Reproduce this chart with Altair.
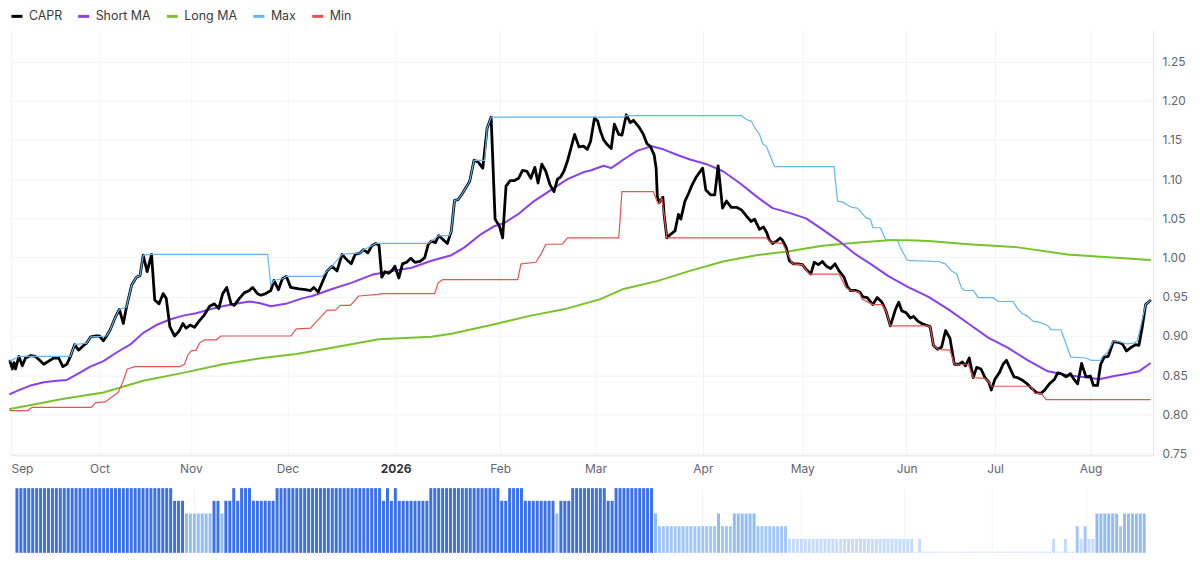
import altair as alt
import pandas as pd

# ---------------- data ----------------
# x is the bar number (one bar per session), y is the CAPR value
CAPR_U = [0, 0.6, 1.0, 1.4, 2.25, 3.1, 3.9, 5.2, 6.4, 7.25, 8.5, 9.75, 11, 12.25, 13.3, 14.3, 15.2, 16.25,
          17.25, 18.5, 19.3, 20.3, 21.4, 22.5, 23.5, 24.3, 25.2, 26.4, 27.5, 28.5, 29.3, 30.6, 31.8, 32.7,
          33.5, 34.5, 35.6, 36.4, 37.5, 38.5, 39.3, 40.2, 41.4, 42.5, 43.5, 44.3, 45.3, 46.4, 47.7, 48.9,
          50.2, 51.4, 52.5, 53.5, 54.5, 55.6, 56.4, 57.7, 58.9, 60.2, 61, 62.25, 63.1, 64.3, 65.6, 66.4,
          67.5, 68.5, 69.5, 70.6, 72.7, 74.3, 75.6, 76.4, 77.5, 78.5, 79.75, 81, 82.25, 83.5, 84.75, 85.8,
          86.8, 88.1, 88.9, 90, 91, 92, 92.8, 93.5, 94.3, 95.2, 96, 96.8, 97.8, 98.7, 99.75, 100.8, 101.8,
          103.1, 104.3, 105.2, 106, 107, 107.8, 108.9, 110, 111, 111.8, 112.7, 113.7, 114.75, 115.6, 116.7,
          117.7, 118.9, 120, 121, 122, 123.1, 123.9, 124.75, 125.8, 126.8, 127.9, 128.9, 130, 131, 132,
          132.8, 133.75, 134.75, 135.8, 136.8, 137.7, 138.5, 139.3, 140.2, 142, 143.1, 144.2, 145.2, 146,
          147, 147.8, 148.5, 149.3, 150.2, 151.2, 152, 153.1, 153.9, 155, 156, 156.8, 158.1, 159.3, 160.2,
          161, 162, 162.5, 162.8, 163.25, 164.2, 164.5, 165.2, 166.2, 167.25, 168.1, 168.7, 169.75, 170.6,
          171.4, 172.5, 174.2, 175, 176.2, 177.25, 178.1, 179.2, 180.2, 181.4, 182.7, 183.9, 185.2, 186.4,
          187.25, 188.5, 189.5, 190.3, 191, 191.8, 192.8, 193.7, 194.3, 195.2, 196, 197, 198.1, 199.3,
          200.2, 201.4, 202.25, 203.3, 204.3, 205.3, 206.4, 207.5, 208.5, 209.75, 210.6, 211.4, 212.7,
          213.7, 214.5, 215.6, 217, 218.1, 219.3, 220.3, 221.4, 222.7, 223.5, 224.3, 225.3, 226.4, 227.25,
          228.3, 229.3, 230.3, 231.4, 232.25, 233.3, 234.3, 235.3, 236.4, 237.5, 238.7, 239.5, 240.3,
          241.25, 242.25, 243.1, 244.2, 245.2, 246.2, 246.8, 247.7, 248.9, 249.75, 250.6, 251.4, 252.5,
          253.3, 254.5, 255.6, 256.8, 258.1, 259.3, 260.2, 261.4, 262.7, 263.5, 264.3, 265.6, 266.7, 267.7,
          268.5, 269.5, 270.6, 271.7, 272.5, 273.5, 274.3, 275.2, 276.2, 277.5, 278.7, 279.75, 280.8,
          281.8, 283.1, 283.9, 284.75, 285.6, 286.7]
CAPR_V = [0.868, 0.858, 0.866, 0.858, 0.874, 0.862, 0.872, 0.875, 0.874, 0.870, 0.864, 0.868, 0.872, 0.872,
          0.861, 0.864, 0.874, 0.889, 0.882, 0.888, 0.891, 0.899, 0.900, 0.900, 0.894, 0.900, 0.908, 0.923,
          0.934, 0.916, 0.937, 0.965, 0.975, 0.977, 1.003, 0.982, 1.004, 0.946, 0.941, 0.954, 0.948, 0.912,
          0.900, 0.906, 0.916, 0.910, 0.914, 0.911, 0.920, 0.927, 0.938, 0.941, 0.935, 0.954, 0.962, 0.941,
          0.939, 0.948, 0.955, 0.958, 0.962, 0.954, 0.952, 0.954, 0.958, 0.971, 0.959, 0.973, 0.976, 0.962,
          0.960, 0.959, 0.958, 0.962, 0.956, 0.968, 0.983, 0.989, 0.983, 1.004, 0.997, 0.992, 1.004, 1.006,
          1.010, 1.006, 1.015, 1.018, 1.016, 0.975, 0.982, 0.980, 0.983, 0.989, 0.974, 0.992, 0.994, 0.999,
          0.994, 0.995, 1.000, 1.017, 1.021, 1.019, 1.028, 1.023, 1.018, 1.034, 1.073, 1.074, 1.081, 1.090,
          1.097, 1.124, 1.122, 1.114, 1.165, 1.179, 1.049, 1.040, 1.025, 1.091, 1.098, 1.098, 1.101, 1.111,
          1.110, 1.101, 1.115, 1.095, 1.119, 1.110, 1.093, 1.084, 1.100, 1.103, 1.110, 1.123, 1.157, 1.141,
          1.142, 1.138, 1.148, 1.178, 1.174, 1.161, 1.150, 1.144, 1.139, 1.170, 1.157, 1.156, 1.182, 1.172,
          1.175, 1.167, 1.157, 1.145, 1.142, 1.131, 1.114, 1.078, 1.070, 1.077, 1.055, 1.025, 1.030, 1.034,
          1.055, 1.049, 1.072, 1.081, 1.091, 1.102, 1.114, 1.086, 1.080, 1.080, 1.117, 1.063, 1.072, 1.064,
          1.064, 1.061, 1.053, 1.046, 1.049, 1.036, 1.039, 1.032, 1.022, 1.018, 1.021, 1.025, 1.022, 1.013,
          0.996, 0.992, 0.992, 0.991, 0.985, 0.979, 0.994, 0.991, 0.995, 0.989, 0.986, 0.992, 0.983, 0.975,
          0.963, 0.958, 0.958, 0.956, 0.950, 0.949, 0.940, 0.949, 0.943, 0.932, 0.913, 0.934, 0.943, 0.932,
          0.930, 0.923, 0.925, 0.919, 0.916, 0.914, 0.912, 0.888, 0.883, 0.886, 0.907, 0.897, 0.864, 0.864,
          0.867, 0.862, 0.872, 0.847, 0.860, 0.858, 0.847, 0.841, 0.831, 0.845, 0.854, 0.864, 0.869, 0.860,
          0.848, 0.847, 0.844, 0.840, 0.834, 0.828, 0.827, 0.831, 0.839, 0.845, 0.853, 0.852, 0.848, 0.852,
          0.844, 0.839, 0.865, 0.848, 0.849, 0.837, 0.837, 0.864, 0.873, 0.874, 0.893, 0.892, 0.890, 0.881,
          0.885, 0.889, 0.888, 0.911, 0.940, 0.945]

SHORT_U = [0, 1.8, 5.2, 8.5, 11.8, 14.3, 16.8, 20.2, 23.5, 26.8, 30.2, 33.5, 36.8, 40.2, 43.5, 46.8, 50.2,
           53.5, 56.8, 60.2, 62.7, 65.6, 69.3, 73.5, 76, 81, 86, 91, 96, 101, 106, 111, 114.3, 118.5, 121.8,
           124.3, 127.7, 131.8, 136, 140.2, 144.3, 146, 149.3, 151.2, 154.3, 157.7, 161.4, 164.3, 167.7,
           171, 175.2, 179.3, 183.5, 187.7, 191.8, 196, 200.2, 204.3, 208.5, 212.7, 216.4, 221, 226, 231,
           236, 241, 246, 251, 256, 261, 266, 271, 273.9, 277.7, 281, 283.9, 286.7]
SHORT_V = [0.826, 0.830, 0.837, 0.841, 0.843, 0.844, 0.851, 0.861, 0.868, 0.879, 0.889, 0.904, 0.914, 0.921,
           0.926, 0.929, 0.934, 0.938, 0.941, 0.944, 0.942, 0.938, 0.941, 0.948, 0.951, 0.960, 0.968, 0.978,
           0.983, 0.987, 0.996, 1.003, 1.013, 1.030, 1.040, 1.044, 1.055, 1.072, 1.086, 1.100, 1.109, 1.111,
           1.117, 1.114, 1.125, 1.136, 1.142, 1.138, 1.131, 1.125, 1.119, 1.110, 1.095, 1.078, 1.063, 1.057,
           1.050, 1.036, 1.021, 1.004, 0.992, 0.976, 0.962, 0.950, 0.934, 0.916, 0.898, 0.885, 0.869, 0.855,
           0.850, 0.847, 0.845, 0.849, 0.852, 0.855, 0.865]

LONG_U = [0, 13.5, 23.5, 33.5, 43.5, 53.5, 63.5, 72, 81, 92.7, 106, 111, 121, 131, 139.3, 148.5, 154.3,
          162.7, 171, 179.3, 187.7, 196, 204.3, 212.7, 221, 226, 231, 241, 253.5, 266, 274.3, 286.7]
LONG_V = [0.807, 0.820, 0.828, 0.843, 0.853, 0.864, 0.872, 0.877, 0.885, 0.896, 0.899, 0.903, 0.914, 0.926,
          0.934, 0.947, 0.960, 0.970, 0.983, 0.995, 1.003, 1.008, 1.015, 1.019, 1.022, 1.022, 1.021, 1.017,
          1.013, 1.004, 1.001, 0.997]

MAX_U = [0, 2.25, 15.2, 16.25, 19.3, 20.3, 24.3, 25.2, 26.4, 27.5, 29.3, 30.6, 31.8, 32.7, 33.5, 35.6, 64.8,
         65.6, 66.4, 68.5, 69.5, 78.5, 79.75, 81, 83.5, 88.1, 88.9, 91, 92, 105.2, 106, 107.8, 110.5, 111,
         111.8, 112.7, 113.7, 114.75, 115.6, 116.7, 119.4, 120, 121, 154.5, 155, 183.9, 185.2, 186.4,
         187.25, 188.5, 189.3, 190.2, 191.4, 192.25, 207.25, 208.1, 209.3, 210.6, 211.8, 213.1, 213.9,
         215.2, 216.4, 217, 218.9, 220.2, 223.1, 223.9, 225.6, 226.4, 233.5, 235.2, 236.8, 238.1, 239.3,
         240.2, 242.25, 243.5, 247.25, 248.5, 252.25, 253.5, 254.75, 256, 257.25, 259.3, 261, 261.8, 264.3,
         266.8, 270.6, 271.8, 274.3, 274.75, 276, 277.5, 278.5, 281, 282.7, 283.5, 284.3, 285.6, 286.7]
MAX_V = [0.868, 0.874, 0.874, 0.889, 0.891, 0.899, 0.900, 0.908, 0.923, 0.934, 0.937, 0.965, 0.975, 0.977,
         1.003, 1.004, 1.004, 0.965, 0.971, 0.973, 0.976, 0.976, 0.983, 0.989, 1.004, 1.006, 1.010, 1.015,
         1.018, 1.018, 1.021, 1.028, 1.028, 1.034, 1.073, 1.074, 1.081, 1.090, 1.097, 1.124, 1.124, 1.165,
         1.179, 1.179, 1.181, 1.181, 1.176, 1.174, 1.166, 1.157, 1.145, 1.142, 1.127, 1.116, 1.116, 1.072,
         1.071, 1.067, 1.064, 1.063, 1.059, 1.051, 1.049, 1.038, 1.038, 1.023, 1.023, 1.013, 0.997, 0.996,
         0.995, 0.992, 0.983, 0.979, 0.961, 0.958, 0.958, 0.949, 0.949, 0.944, 0.944, 0.934, 0.928, 0.925,
         0.919, 0.917, 0.913, 0.908, 0.908, 0.873, 0.872, 0.869, 0.869, 0.874, 0.879, 0.894, 0.893, 0.890,
         0.891, 0.894, 0.911, 0.940, 0.945]

MIN_U = [0, 4.5, 5.5, 20.5, 21.5, 23.9, 25, 27.2, 28.5, 29.5, 31.4, 42.7, 43.9, 44.75, 45.6, 46.8, 47.7,
         48.9, 51.8, 53.1, 70.6, 72, 75.6, 76.8, 78.5, 79.75, 81.8, 83.1, 85.6, 87.7, 92.7, 93.5, 106.8,
         107.7, 108.9, 127.7, 128.5, 132.25, 133.5, 134.75, 138.9, 140.2, 153.1, 153.9, 161.8, 162.7, 163.1,
         163.9, 164.5, 165.2, 190.2, 191.4, 194.3, 195.6, 196.8, 199.3, 201, 208.5, 210.2, 211.4, 213.5,
         214.3, 217, 219.3, 220.3, 221.4, 230.6, 231.4, 232.25, 233.5, 236.4, 237.5, 241, 242.25, 245.2,
         246.2, 246.8, 256.8, 257.7, 259.3, 260.6, 286.7]
MIN_V = [0.805, 0.805, 0.809, 0.809, 0.815, 0.816, 0.820, 0.828, 0.843, 0.858, 0.861, 0.861, 0.864, 0.876,
         0.881, 0.882, 0.891, 0.895, 0.895, 0.900, 0.900, 0.909, 0.910, 0.917, 0.926, 0.933, 0.933, 0.939,
         0.939, 0.951, 0.953, 0.954, 0.954, 0.968, 0.972, 0.972, 0.992, 0.994, 1.004, 1.017, 1.017, 1.025,
         1.025, 1.084, 1.084, 1.072, 1.068, 1.076, 1.055, 1.025, 1.025, 1.019, 1.018, 1.005, 0.992, 0.991,
         0.979, 0.979, 0.962, 0.958, 0.956, 0.947, 0.940, 0.940, 0.932, 0.913, 0.913, 0.912, 0.888, 0.883,
         0.882, 0.864, 0.864, 0.847, 0.846, 0.841, 0.836, 0.836, 0.827, 0.827, 0.819, 0.819]

SERIES = ["CAPR", "Short MA", "Long MA", "Max", "Min"]
SERIES_COLORS = ["#000000", "#8a3ef2", "#78c22b", "#62b5f0", "#e8534d"]

# lower pane: strength level of each bar, as runs of (level, number of bars)
LEVEL_RUNS = [(5, 40), (4, 3), (3, 7), (4, 2), (3, 1), (4, 2), (5, 1), (4, 1), (5, 3), (4, 6), (5, 27),
              (4, 1), (5, 1), (4, 1), (5, 1), (4, 8), (5, 18), (4, 2), (5, 4), (4, 8), (3, 1), (4, 3),
              (5, 9), (4, 2), (5, 10), (3, 1), (2, 15), (3, 1), (2, 3), (3, 6), (2, 8), (1, 32), (0, 1),
              (1, 1), (0, 33), (1, 1), (0, 2), (1, 1), (0, 2), (2, 1), (1, 1), (2, 1), (1, 2), (3, 6),
              (2, 1), (3, 6)]
LEVELS = [0, 1, 2, 3, 4, 5]
LEVEL_COLORS = ["#d3e3fb", "#c6dbfa", "#a2c6f6", "#93bcf4", "#3b71e5", "#3b71e5"]

MONTH_TICKS = [0.25, 22.5, 45.5, 69.75, 97, 123.25, 147.25, 174.25, 199.25, 225.5, 247.75, 271.75]
MONTH_LABELS = ["Sep", "Oct", "Nov", "Dec", "2026", "Feb", "Mar", "Apr", "May", "Jun", "Jul", "Aug"]
PRICE_TICKS = [0.75, 0.80, 0.85, 0.90, 0.95, 1.00, 1.05, 1.10, 1.15, 1.20, 1.25]

# ---------------- frames ----------------
def frame(name, us, vs):
    return pd.DataFrame({"u": us, "value": vs, "series": name})

frames = {
    "CAPR": frame("CAPR", CAPR_U, CAPR_V),
    "Short MA": frame("Short MA", SHORT_U, SHORT_V),
    "Long MA": frame("Long MA", LONG_U, LONG_V),
    "Max": frame("Max", MAX_U, MAX_V),
    "Min": frame("Min", MIN_U, MIN_V),
}

levels = []
for lvl, n in LEVEL_RUNS:
    levels.extend([lvl] * n)
bars_df = pd.DataFrame({"bar": list(range(len(levels))), "level": levels})

X_DOMAIN = [0, 287.5]
GRID = "#f1f3f7"
DOMAIN_COLOR = "#e3e5ea"
TEXT = "#62656e"
FONT = "Inter"

ticks_js = "[" + ",".join(repr(t) for t in MONTH_TICKS) + "]"
labels_js = "[" + ",".join("'" + m + "'" for m in MONTH_LABELS) + "]"
label_expr = labels_js + "[indexof(" + ticks_js + ", datum.value)]"
year_test = "datum.value == " + repr(MONTH_TICKS[MONTH_LABELS.index("2026")])

x_top = alt.X(
    "u:Q",
    scale=alt.Scale(domain=X_DOMAIN, nice=False, zero=False),
    axis=alt.Axis(
        values=MONTH_TICKS, labelExpr=label_expr, title=None, grid=True, gridColor=GRID,
        ticks=False, domain=True, domainColor=DOMAIN_COLOR, labelFontSize=12, labelFont=FONT,
        labelColor={"condition": {"test": year_test, "value": "#2f3138"}, "value": TEXT},
        labelFontWeight={"condition": {"test": year_test, "value": "bold"}, "value": "normal"},
        labelPadding=8, labelFlush=3, labelOverlap=False,
    ),
)
y_top = alt.Y(
    "value:Q",
    scale=alt.Scale(domain=[0.748, 1.29], nice=False, zero=False),
    axis=alt.Axis(
        orient="right", values=PRICE_TICKS, format=".2f", title=None, grid=True, gridColor=GRID,
        ticks=False, domain=True, domainColor=DOMAIN_COLOR, labelFontSize=12, labelFont=FONT,
        labelColor=TEXT, labelPadding=9, labelOverlap=False,
    ),
)
color = alt.Color(
    "series:N",
    scale=alt.Scale(domain=SERIES, range=SERIES_COLORS),
    legend=alt.Legend(
        orient="none", legendX=0, legendY=-21, direction="horizontal", title=None,
        symbolType="stroke", symbolStrokeWidth=3, symbolSize=121, labelFontSize=12.5,
        labelFont=FONT, labelColor="#3a3b40", labelOffset=5, columnPadding=9, padding=0,
    ),
)

def line(name, width):
    return alt.Chart(frames[name]).mark_line(
        strokeWidth=width, strokeJoin="round", strokeCap="round"
    ).encode(x=x_top, y=y_top, color=color)

top = alt.layer(
    line("Long MA", 2),
    line("Short MA", 2),
    line("CAPR", 2.8),
    line("Min", 1.2),
    line("Max", 1.2),
).properties(width=1148, height=427)

bottom = alt.Chart(bars_df).transform_calculate(
    uc="datum.bar + 0.5"
).mark_bar(width=3).encode(
    x=alt.X(
        "uc:Q",
        scale=alt.Scale(domain=X_DOMAIN, nice=False, zero=False),
        axis=alt.Axis(values=MONTH_TICKS, labels=False, ticks=False, domain=False, grid=True,
                      gridColor=GRID, title=None),
    ),
    y=alt.Y("level:Q", scale=alt.Scale(domain=[-0.1, 5], nice=False, zero=False), axis=None),
    y2=alt.datum(-0.1),
    color=alt.Color("level:O", scale=alt.Scale(domain=LEVELS, range=LEVEL_COLORS), legend=None),
).properties(width=1148, height=65)

chart = alt.vconcat(top, bottom, spacing=14).resolve_scale(
    color="independent", x="independent"
).properties(
    padding={"left": 0, "top": 0, "right": 4, "bottom": 0},
    background="white",
).configure_view(stroke=None)

chart.save("out.html", embed_options={"renderer": "svg", "actions": False})
